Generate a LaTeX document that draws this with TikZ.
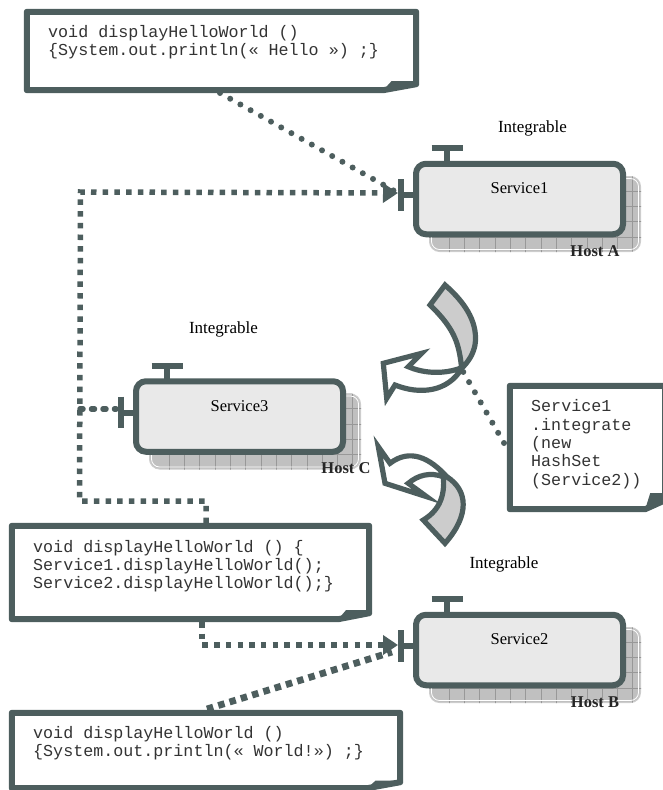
\documentclass[tikz,border=0pt]{standalone}
\usepackage{fontspec}
\setmainfont{Liberation Serif}
\setmonofont{Liberation Mono}
\usetikzlibrary{arrows.meta,calc}
\definecolor{dk}{HTML}{4D5E5E}
\definecolor{svcfill}{HTML}{E9E9E9}
\definecolor{hostfill}{HTML}{C0C0C0}
\definecolor{gridc}{HTML}{989898}
\definecolor{arrfill}{HTML}{CCCCCC}
\tikzset{
  svc/.style={draw=dk,fill=svcfill,line width=6pt,rounded corners=10pt,minimum width=207pt,minimum height=70.5pt,inner sep=0pt},
  hostbox/.style={fill=hostfill,draw=hostfill!80!white,line width=1pt,rounded corners=10pt,minimum width=211pt,minimum height=75pt,inner sep=0pt},
  portbar/.style={draw=dk,line width=6pt},
  portstem/.style={draw=dk,line width=6pt},
  lbl/.style={font=\fontsize{16.5}{18}\selectfont,inner sep=0pt},
  intlbl/.style={font=\fontsize{17}{18}\selectfont,inner sep=0pt},
  hostlbl/.style={font=\fontsize{16.5}{18}\selectfont\bfseries,inner sep=0pt,text=black!85},
  code/.style={font=\fontsize{16.7}{18.3}\selectfont\ttfamily,inner sep=0pt,anchor=north west,align=left,text=black!80},
  noteframe/.style={draw=dk,line width=6pt,fill=white,line join=round},
  sqdots/.style={draw=dk,line width=5.5pt,dash pattern=on 5.5pt off 6.2pt},
  sqthick/.style={draw=dk,line width=6.8pt,dash pattern=on 6.5pt off 5.3pt},
  rddots/.style={draw=dk,line width=6pt,line cap=round,dash pattern=on 0pt off 11.7pt},
  tip/.style={-{Triangle[length=15pt,width=19pt,fill=dk]}},
  bigarrow/.style={draw=dk,line width=5.2pt,line join=miter,miter limit=10},
}
% name, cx, cy, text
\newcommand\servicebox[4]{%
  \node[hostbox] (#1host) at (#2+15.5,#3+15) {};
  \begin{scope}
    \clip[rounded corners=10pt] (#1host.south west) rectangle (#1host.north east);
    \foreach \k in {-6,...,6}{\draw[gridc,line width=.7pt] (#2+15.5+\k*15.3+6,#3-25) -- (#2+15.5+\k*15.3+6,#3+55);}
    \foreach \k in {0,...,4}{\draw[gridc,line width=.7pt] (#2-92,#3+38-\k*15.3) -- (#2+125,#3+38-\k*15.3);}
  \end{scope}
  \draw[white,line width=.8pt,rounded corners=8pt] ($(#1host.south west)+(2.5,-2.5)$) rectangle ($(#1host.north east)+(-2.5,2.5)$);
  \node[svc] (#1) at (#2,#3) {};
  \node[lbl] (#1text) at (#2,#3-10.5) {#4};
  \coordinate (#1topa) at (#2-72.5,#3-38);
  \coordinate (#1topb) at (#2-72.5,#3-51);
  \draw[portstem] (#1topa) -- (#1topb);
  \draw[portbar] (#2-88,#3-51) -- (#2-57,#3-51);
  \coordinate (#1lefta) at (#2-106,#3-4);
  \coordinate (#1leftb) at (#2-119,#3-4);
  \draw[portstem] (#1lefta) -- (#1leftb);
  \draw[portbar] (#2-119,#3-20) -- (#2-119,#3+11.5);
}
% name, x0, y0, x1, y1, foldw, foldh, foldinner
\newcommand\notebox[8]{%
  \node[inner sep=0pt,minimum width=#4pt-#2pt,minimum height=#5pt-#3pt] (#1) at ({(#2+#4)/2},{(#3+#5)/2}) {};
  \draw[noteframe] (#1.north west) -- (#1.north east) -- ($(#1.south east)+(0,-#7)$) -- ($(#1.south east)+(-#6,0)$) -- (#1.south west) -- cycle;
  \fill[dk] ($(#1.south east)+(-#6,0)$) -- ($(#1.south east)+({-#6*.75},-#8)$) -- ($(#1.south east)+(0,-#8)$) -- ($(#1.south east)+(0,-#7)$) -- cycle;
}
\begin{document}
\begin{tikzpicture}[x=1pt,y=-1pt]
\useasboundingbox (0,0) rectangle (663,790);

% services
\servicebox{sa}{519.5}{199}{Service1}
\servicebox{sc}{239.5}{416.5}{Service3}
\servicebox{sb}{519.5}{650}{Service2}

% labels
\node[hostlbl] (ha) at (595,251) {Host A};
\node[hostlbl] (hc) at (346,468) {Host C};
\node[hostlbl] (hb) at (595,702) {Host B};
\node[intlbl] (ia) at (532.5,128) {Integrable};
\node[intlbl] (ic) at (223.5,329) {Integrable};
\node[intlbl] (ib) at (504,564) {Integrable};

% notes
\notebox{na}{27}{12}{416}{90}{33}{6}{9}
\notebox{nc}{12}{526}{369}{619}{31}{6}{9}
\notebox{nb}{12}{713}{400}{788}{33}{6}{7.5}
\notebox{nd}{510}{386}{665}{509}{20}{9}{16}

\node[code] (ta) at (48,25) {void displayHelloWorld ()\\\{System.out.println(« Hello ») ;\}};
\node[code] (tc) at (33,540) {void displayHelloWorld () \{\\Service1.displayHelloWorld();\\Service2.displayHelloWorld();\}};
\node[code] (tb) at (33,726) {void displayHelloWorld ()\\\{System.out.println(« World!») ;\}};
\node[code] (td) at (531,399.5) {Service1\\.integrate\\(new\\HashSet\\(Service2))};

% connectors
\coordinate (jaa) at (80.5,192);
\coordinate (jab) at (79.5,501);
\coordinate (jac) at (206,501);
\coordinate (jc) at (80,409);
\coordinate (sain) at (398,193);
\coordinate (sbin) at (398,645);
\coordinate (ncout) at (202,622);
\coordinate (ncbend) at (202,645);
\coordinate (ncin) at (206,523);
\coordinate (naout) at (220,93);
\coordinate (nbout) at (207,709);
\coordinate (sbinb) at (392,652);
\coordinate (scin) at (116,409);
\coordinate (ndout) at (504,443);
\coordinate (arrj) at (461,368);

\draw[rddots] (naout) -- (sain);
\draw[sqdots,tip] (ncin) -- (jac) -- (jab) -- (jaa) -- (sain);
\draw[draw=dk,line width=5.5pt,line cap=round,dash pattern=on 3pt off 8.5pt] (jc) -- (scin);
\draw[sqdots,tip] (ncout) -- (ncbend) -- (sbin);
\draw[sqthick] (nbout) -- (sbinb);
\draw[rddots] (ndout) -- (arrj);

% curved arrows
\draw[bigarrow,fill=white] (461,368) .. controls (445,374) and (425,374) .. (408.3,366.7) -- (421.7,353.3) -- (383.3,363.3) -- (386.7,398.3) -- (395,385) .. controls (420,395) and (448,392) .. (462,368) -- cycle;
\draw[bigarrow,fill=arrfill] (445,285) .. controls (468,305) and (478,325) .. (475,345) .. controls (473,355) and (468,362) .. (461.7,368.3) .. controls (459,345) and (456,330) .. (430,305) -- cycle;

\draw[bigarrow,fill=white] (390,463.3) .. controls (410,448) and (430,458) .. (446.7,476.7) -- (443.3,476.7) .. controls (430,472) and (418,475) .. (408.3,483.3) -- (426.7,496.7) -- (385,483.3) -- (378.3,446.7) -- cycle;
\draw[bigarrow,fill=arrfill] (446.7,476.7) .. controls (468,490) and (470,515) .. (445,543.3) -- (423.3,520) .. controls (440,510) and (445,495) .. (443.3,476.7) -- cycle;
\end{tikzpicture}
\end{document}
